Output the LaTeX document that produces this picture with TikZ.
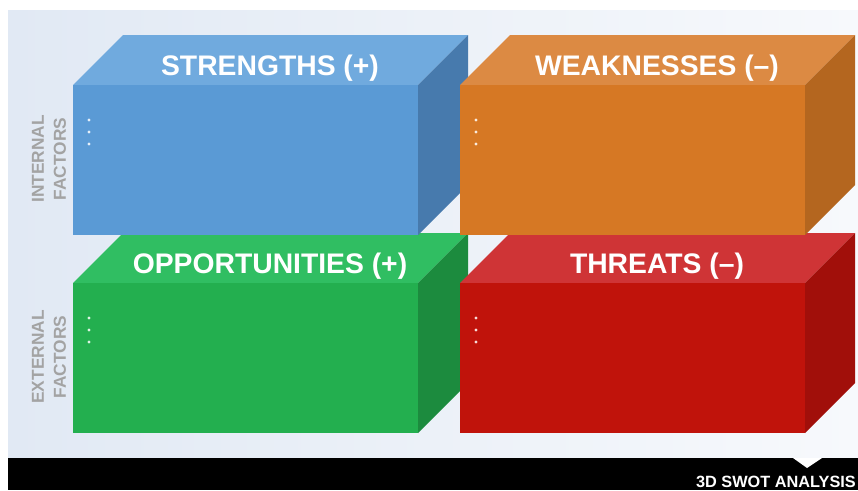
\documentclass[tikz,border=0pt]{standalone}
\usepackage{fontspec}
\setmainfont{Liberation Sans}
\usetikzlibrary{positioning}
\definecolor{bluefront}{HTML}{5A9AD5}
\definecolor{bluetop}{HTML}{70AADE}
\definecolor{blueside}{HTML}{477AAD}
\definecolor{orangefront}{HTML}{D67824}
\definecolor{orangetop}{HTML}{DC8A43}
\definecolor{orangeside}{HTML}{B4661F}
\definecolor{greenfront}{HTML}{23AF4F}
\definecolor{greentop}{HTML}{30BE62}
\definecolor{greenside}{HTML}{1C8B3E}
\definecolor{redfront}{HTML}{C0130B}
\definecolor{redtop}{HTML}{CF3436}
\definecolor{redside}{HTML}{A10F0A}
\definecolor{bgleft}{HTML}{E1E9F4}
\definecolor{bgright}{HTML}{F7F9FC}
\definecolor{labelgray}{HTML}{A3A3A3}
\tikzstyle{box title} = [text=white,anchor=base,inner sep=0pt,font=\bfseries\fontsize{28.3}{30}\selectfont]
\tikzstyle{side label} = [text=labelgray,align=center,rotate=90,inner sep=0pt,font=\bfseries\fontsize{17.3}{22}\selectfont]
\tikzstyle{footer} = [text=white,anchor=base east,inner sep=0pt,font=\bfseries\fontsize{16.3}{18}\selectfont]
\newcommand{\swotbox}[4]{
 \begin{scope}[shift={(#1)}]
  \fill[#2top] (0,0) -- (50,-50) -- (395,-50) -- (345,0) -- cycle;
  \fill[#2side] (345,0) -- (395,-50) -- (395,100) -- (345,150) -- cycle;
  \fill[#2front] (0,0) rectangle (345,150);
  \foreach \dy in {35,47,59}
   \fill[white!85!#2front] (16,\dy) circle (1.6);
  \node[box title] (#3) at (197,-10) {#4};
 \end{scope}
}

\begin{document}
\begin{tikzpicture}[x=1pt,y=-1pt]
    \useasboundingbox (0,0) rectangle (858,490);
    \shade[left color=bgleft,right color=bgright] (8,10) rectangle (858,458);

    % lower row first, upper row sits on top
    \swotbox{73,283}{green}{opportunities}{OPPORTUNITIES (+)}
    \swotbox{460,283}{red}{threats}{THREATS (--)}
    \swotbox{73,85}{blue}{strengths}{STRENGTHS (+)}
    \swotbox{460,85}{orange}{weaknesses}{WEAKNESSES (--)}

    \node[side label] (internal) at (49,159) {INTERNAL\\FACTORS};
    \node[side label] (external) at (49,357) {EXTERNAL\\FACTORS};

    % footer bar
    \fill[black] (8,458) rectangle (858,490);
    \fill[white] (793,458) -- (822,458) -- (807,468) -- cycle;
    \node[footer] (swot) at (856,487) {3D SWOT ANALYSIS};
\end{tikzpicture}
\end{document}
